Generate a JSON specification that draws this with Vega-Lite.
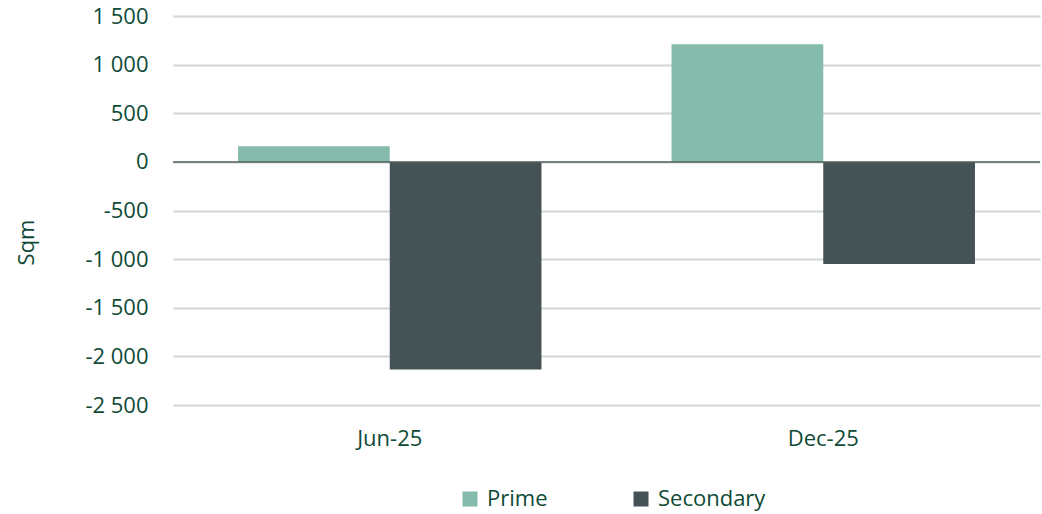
{
  "$schema": "https://vega.github.io/schema/vega-lite/v6.json",
  "width": 867,
  "height": 389,
  "autosize": {"type": "none"},
  "padding": {"left": 173, "top": 16, "right": 2, "bottom": 109},
  "data": {
    "values": [
      {"period": "Jun-25", "series": "Prime", "value": 160},
      {"period": "Jun-25", "series": "Secondary", "value": -2135},
      {"period": "Dec-25", "series": "Prime", "value": 1210},
      {"period": "Dec-25", "series": "Secondary", "value": -1050}
    ]
  },
  "layer": [
    {
      "mark": {"type": "bar"},
      "encoding": {
        "x": {
          "field": "period",
          "type": "nominal",
          "sort": ["Jun-25", "Dec-25"],
          "scale": {"paddingInner": 0.3, "paddingOuter": 0.15},
          "axis": {
            "title": null,
            "labelAngle": 0,
            "domain": false,
            "ticks": false,
            "labelPadding": 23,
            "grid": false
          }
        },
        "xOffset": {
          "field": "series",
          "type": "nominal",
          "sort": ["Prime", "Secondary"],
          "scale": {"paddingInner": 0, "paddingOuter": 0}
        },
        "y": {
          "field": "value",
          "type": "quantitative",
          "scale": {"domain": [-2500, 1500], "nice": false, "zero": false},
          "axis": {
            "title": "Sqm",
            "values": [-2500, -2000, -1500, -1000, -500, 0, 500, 1000, 1500],
            "format": ",d",
            "domain": false,
            "ticks": false,
            "labelPadding": 25,
            "grid": true,
            "gridColor": "#D0D5D6",
            "gridWidth": 2,
            "titleX": -135,
            "titleY": 226,
            "titleAngle": -90,
            "titleBaseline": "bottom",
            "titleAlign": "center"
          }
        },
        "color": {
          "field": "series",
          "type": "nominal",
          "scale": {"domain": ["Prime", "Secondary"], "range": ["#84BBAD", "#455357"]},
          "legend": {
            "title": null,
            "orient": "none",
            "direction": "horizontal",
            "legendX": 286,
            "legendY": 472,
            "symbolType": "square",
            "symbolSize": 225,
            "symbolStrokeWidth": 0,
            "labelOffset": 6,
            "columnPadding": 82,
            "labelFontSize": 22
          }
        }
      }
    },
    {
      "data": {"values": [{"zero": 0}]},
      "mark": {"type": "rule", "color": "#56615F", "strokeWidth": 1.5},
      "encoding": {
        "y": {"field": "zero", "type": "quantitative"}
      }
    }
  ],
  "config": {
    "view": {"stroke": null},
    "locale": {
      "number": {
        "decimal": ",",
        "thousands": " ",
        "grouping": [3],
        "currency": ["", ""],
        "minus": "-"
      }
    },
    "font": "Open Sans",
    "axis": {
      "labelFont": "Open Sans",
      "labelFontSize": 22,
      "labelColor": "#0F4A37",
      "titleFont": "Open Sans",
      "titleFontSize": 22,
      "titleFontWeight": "normal",
      "titleColor": "#0F4A37"
    },
    "legend": {
      "labelFont": "Open Sans",
      "labelFontSize": 22,
      "labelColor": "#0F4A37"
    }
  }
}
